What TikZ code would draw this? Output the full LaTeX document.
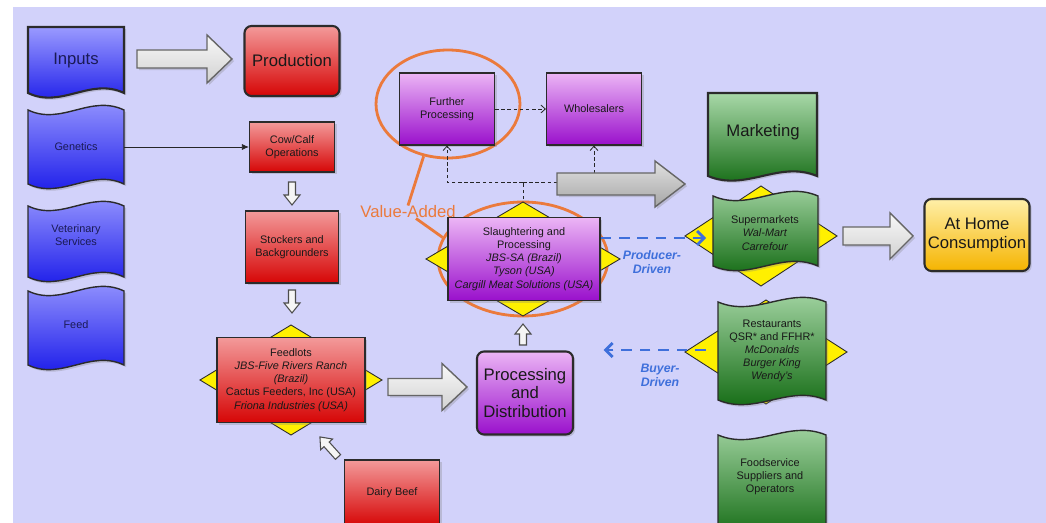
\documentclass[tikz,border=0pt]{standalone}
\usepackage{fontspec}
\setmainfont{Liberation Sans}
\usetikzlibrary{shapes.geometric,arrows.meta,shadows,calc}

\definecolor{canvasbg}{HTML}{D2D2FA}
\definecolor{redtop}{HTML}{F39A9A}
\definecolor{redbot}{HTML}{D60606}
\definecolor{purtop}{HTML}{EBB5F5}
\definecolor{purbot}{HTML}{9A10CC}
\definecolor{blutop}{HTML}{9A9AFF}
\definecolor{blubot}{HTML}{1414E8}
\definecolor{grntop}{HTML}{A8D8A8}
\definecolor{grnbot}{HTML}{0B650B}
\definecolor{yeltop}{HTML}{FFEFA8}
\definecolor{yelbot}{HTML}{F5B400}
\definecolor{dmdyel}{HTML}{FFF000}
\definecolor{vaorange}{HTML}{EB7A3C}
\definecolor{drv}{HTML}{3E6FDB}
\definecolor{edgec}{HTML}{2B2B2B}
\definecolor{navy}{HTML}{1A1A55}

\newcommand\smallf{\fontsize{6.2}{7.5}\selectfont}
\newcommand\bigf{\fontsize{9.5}{10.6}\selectfont}

% x1, top y, x2, bottom y : wavy top and bottom
\newcommand\tapeshape[4]{(#1,#2) .. controls ({#1+0.35*(#3-#1)},{#2+16}) and ({#1+0.65*(#3-#1)},{#2-16}) .. (#3,#2)
  -- (#3,#4) .. controls ({#1+0.65*(#3-#1)},{#4-16}) and ({#1+0.35*(#3-#1)},{#4+16}) .. (#1,#4) -- cycle}
% x1, top y, x2, bottom y : flat top, wavy bottom
\newcommand\docshape[4]{(#1,#2) -- (#3,#2)
  -- (#3,#4) .. controls ({#1+0.65*(#3-#1)},{#4-16}) and ({#1+0.35*(#3-#1)},{#4+16}) .. (#1,#4) -- cycle}
% centre x, centre y, half width, half height
\newcommand\dmdshape[4]{(#1-#3,#2) -- (#1,#2-#4) -- (#1+#3,#2) -- (#1,#2+#4) -- cycle}
% length, shaft half width, head half width, head length
\newcommand\barrowpath[4]{(0,-#2) -- ({#1-#4},-#2) -- ({#1-#4},-#3) -- (#1,0) -- ({#1-#4},#3) -- ({#1-#4},#2) -- (0,#2) -- cycle}

\tikzset{
  shd/.style={drop shadow={opacity=0.3,shadow xshift=1.2pt,shadow yshift=-1.2pt}},
  box/.style={draw=edgec, line width=0.7pt, align=center, inner sep=1pt, font=\smallf, text=black!90, shd},
  bigbox/.style={box, rounded corners=4pt, line width=1.2pt, font=\bigf},
  redf/.style={top color=redtop, bottom color=redbot},
  purf/.style={top color=purtop, bottom color=purbot},
  bluf/.style={top color=blutop, bottom color=blubot},
  grnf/.style={top color=grntop, bottom color=grnbot},
  yelf/.style={top color=yeltop, bottom color=yelbot},
  tapef/.style={draw=edgec, line width=0.8pt, shd},
  lbl/.style={align=center, inner sep=0pt, font=\smallf, text=black!90},
  dmd/.style={fill=dmdyel, draw=edgec, line width=0.5pt},
  oring/.style={ellipse, draw=vaorange, line width=1.6pt, inner sep=0pt},
  dsh/.style={draw=black!85, line width=0.45pt, dash pattern=on 2pt off 1.5pt},
  barb/.style={-{Straight Barb[length=2.5pt,width=4.5pt]}},
  drive/.style={draw=drv, line width=1.6pt, dash pattern=on 6pt off 4.5pt, -{Straight Barb[length=4pt,width=8pt]}},
  drvtxt/.style={text=drv, font=\fontsize{7}{8}\selectfont\bfseries\itshape, align=center, inner sep=0pt},
  garrow/.style={draw=black!60, line width=0.8pt, top color=white!95!gray, bottom color=black!18, shd},
  darrow/.style={draw=black!60, line width=0.8pt, top color=black!12, bottom color=black!35, shd},
  warrow/.style={draw=black!70, line width=0.6pt, fill=white!92!gray},
}

\begin{document}
\begin{tikzpicture}[x=0.02cm,y=-0.02cm]
\useasboundingbox (0,0) rectangle (1046,523);
\fill[white] (0,0) rectangle (1046,523);
\fill[canvasbg] (13,7) rectangle (1046,523);

% ---------- rings behind the value-added steps
\node[oring, minimum width=2.88cm, minimum height=2.16cm] (fpring) at (448,104) {};
\node[oring, minimum width=3.4cm, minimum height=2.28cm] (slring) at (523,259) {};

% ---------- input column
\path[tapef, bluf, line width=1.2pt] \docshape{28}{27}{124}{93};
\path[tapef, bluf] \tapeshape{28}{110}{124}{184};
\path[tapef, bluf] \tapeshape{28}{206}{124}{277};
\path[tapef, bluf] \tapeshape{28}{291}{124}{365};
\node[lbl, text=navy, font=\bigf, minimum width=1.92cm] (inp) at (76,60) {Inputs};
\node[lbl, text=navy, minimum width=1.92cm] (gen) at (76,147) {Genetics};
\node[lbl, text=navy, minimum width=1.92cm] (vet) at (76,235) {Veterinary\\Services};
\node[lbl, text=navy, minimum width=1.92cm] (fd) at (76,325) {Feed};

% ---------- production column
\node[bigbox, redf, minimum width=1.9cm, minimum height=1.4cm] (prod) at (292,61) {Production};
\node[box, redf, minimum width=1.7cm, minimum height=1.0cm] (cow) at (292,147) {Cow/Calf\\Operations};
\node[box, redf, minimum width=1.86cm, minimum height=1.44cm] (stk) at (292,247) {Stockers and\\Backgrounders};
\path[dmd] \dmdshape{291}{380}{91}{55};
\node[box, redf, minimum width=2.96cm, minimum height=1.7cm] (fdl) at (291,380)
  {Feedlots\\\textit{JBS-Five Rivers Ranch}\\\textit{(Brazil)}\\Cactus Feeders, Inc (USA)\\\textit{Friona Industries (USA)}};
\node[box, redf, minimum width=1.9cm, minimum height=1.32cm] (dairy) at (392,493) {Dairy Beef};
\draw[-{Latex[length=4pt,width=3.5pt]}, line width=0.45pt, black!85] (gen.east) -- (cow.west);

% ---------- processing and distribution
\node[box, purf, minimum width=1.9cm, minimum height=1.44cm] (fp) at (447,109) {Further\\Processing};
\node[box, purf, minimum width=1.9cm, minimum height=1.44cm] (wh) at (594,109) {Wholesalers};
\draw[dsh, barb] (fp.east) -- (wh.west);
\coordinate (jn) at (523,182);
\coordinate (jb) at (523,230);
\draw[dsh] (jb) -- (jn);
\draw[dsh, barb] (jn) -| (fp.south);
\draw[dsh, barb] (jn) -| (wh.south);
\path[dmd] \dmdshape{523}{259}{97}{57};
\node[box, purf, minimum width=3.04cm, minimum height=1.66cm] (sl) at (524,259)
  {Slaughtering and\\Processing\\\textit{JBS-SA (Brazil)}\\\textit{Tyson (USA)}\\\textit{Cargill Meat Solutions (USA)}};
\node[bigbox, purf, minimum width=1.92cm, minimum height=1.66cm] (pd) at (525,393) {Processing\\and\\Distribution};

% ---------- marketing column
\path[tapef, grnf, line width=1.2pt] \docshape{708}{93}{817}{176};
\node[lbl, font=\bigf, minimum width=2.18cm] (mkt) at (763,132) {Marketing};
\path[dmd] \dmdshape{761}{236}{76}{50};
\path[dmd] \dmdshape{766}{352}{81}{52};

% producer- and buyer-driven links
\node[lbl, minimum width=2.1cm] (sm) at (765,233) {\phantom{Supermarkets}};
\node[lbl, minimum width=2.16cm] (rs) at (772,351) {\phantom{Restaurants}};
\coordinate (py) at (0,238);
\coordinate (ps) at (sl.east |- py);
\coordinate (pe) at (sm.west |- py);
\draw[drive] (ps) -- ($(pe)+(-6,0)$);
\coordinate (by) at (0,350);
\coordinate (bs) at (rs.west |- by);
\coordinate (be) at (sl.east |- by);
\draw[drive] ($(bs)+(-12,0)$) -- ($(be)+(3,0)$);

\path[tapef, grnf] \tapeshape{713}{196}{818}{266};
\node[lbl] (smtxt) at (sm) {Supermarkets\\\textit{Wal-Mart}\\\textit{Carrefour}};
\path[tapef, grnf] \tapeshape{718}{302}{826}{400};
\node[lbl] (rstxt) at (rs) {Restaurants\\QSR* and FFHR*\\\textit{McDonalds}\\\textit{Burger King}\\\textit{Wendy's}};
\path[tapef, grnf] \tapeshape{718}{435}{826}{530};
\node[lbl, minimum width=2.16cm] (fs) at (770,477) {Foodservice\\Suppliers and\\Operators};

\node[bigbox, yelf, minimum width=2.1cm, minimum height=1.44cm] (home) at (977,235) {At Home\\Consumption};

% ---------- block arrows
\path[garrow, shift={(137,59)}] \barrowpath{95}{9}{24}{25};
\path[garrow, shift={(388,387)}] \barrowpath{79}{8.5}{23.5}{25};
\path[darrow, shift={(557,184)}] \barrowpath{128}{11}{23}{30};
\path[garrow, shift={(843,236)}] \barrowpath{70}{9}{23}{23};
\path[warrow, shift={(292,182)}, rotate=-90] \barrowpath{23}{3.5}{8}{10};
\path[warrow, shift={(292,290)}, rotate=-90] \barrowpath{23}{3.5}{8}{10};
\path[warrow, shift={(523,345)}, rotate=90] \barrowpath{21}{3.5}{8}{10};
\path[warrow, shift={(338,457)}, rotate=132] \barrowpath{27}{3.5}{8}{10};

% ---------- labels
\node[drvtxt] (pdl) at (652,262) {Producer-\\Driven};
\node[drvtxt] (bdl) at (660,375) {Buyer-\\Driven};
\node[lbl, text=vaorange, font=\bigf] (val) at (408,212) {Value-Added};
\draw[vaorange, line width=1.6pt] (val.north) -- (fpring.245);
\draw[vaorange, line width=1.6pt] ($(val.south)+(8,0)$) -- (slring.165);
\end{tikzpicture}
\end{document}
